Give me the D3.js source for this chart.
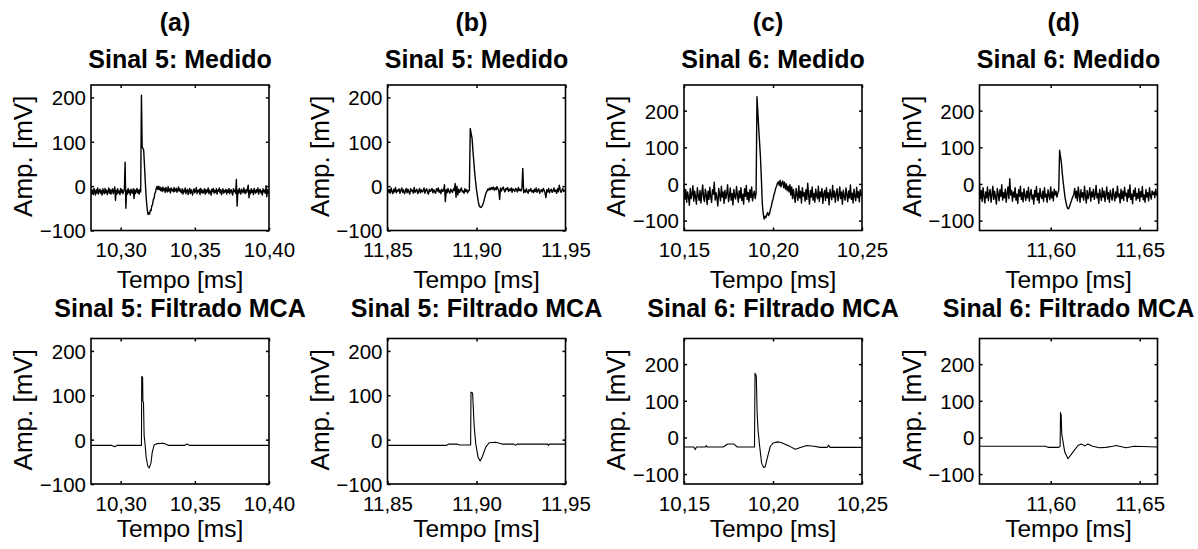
<!DOCTYPE html>
<html>
<head>
<meta charset="utf-8">
<script src="https://cdn.jsdelivr.net/npm/d3@7"></script>
<style>
  html, body { margin: 0; padding: 0; background: #fff; }
  svg { display: block; font-family: "Liberation Sans", Arial, Helvetica, sans-serif; }
</style>
</head>
<body>
<svg id="chart" width="1198" height="549"></svg>
<script>
// ---- Panel text ----
const panelLetters = ["(a)", "(b)", "(c)", "(d)"];
const measuredTitles = ["Sinal 5: Medido", "Sinal 5: Medido", "Sinal 6: Medido", "Sinal 6: Medido"];
const filteredTitles = ["Sinal 5: Filtrado MCA", "Sinal 5: Filtrado MCA", "Sinal 6: Filtrado MCA", "Sinal 6: Filtrado MCA"];
const xAxisLabel = "Tempo [ms]";
const yAxisLabel = "Amp. [mV]";

// ---- Axis ranges and ticks ----
const xDomains = [[10.28, 10.40], [11.85, 11.95], [10.15, 10.25], [11.56, 11.66]];
const xTickValues = [[10.30, 10.35, 10.40], [11.85, 11.90, 11.95], [10.15, 10.20, 10.25], [11.60, 11.65]];
const yDomains = [[-100, 228], [-100, 228], [-127, 270], [-127, 270]];
const yTickValues = [[-100, 0, 100, 200], [-100, 0, 100, 200], [-100, 0, 100, 200], [-100, 0, 100, 200]];

// ---- Measured signals: uniformly sampled, start time [ms] and step [ms] ----
const sampleStart = [10.28, 11.85, 10.15, 11.56];
const sampleStep = 0.0005;

const measured5a = [
  -6,-17,-9,-19,-5,-14,-20,-8,-15,-4,-18,-11,-7,-16,-10,-20,-6,-13,-17,-5,-15,-9,-19,-12,-4,-16,-8,-18,-11,-6,-17,-10,
  -2,-32,
  -9,-18,-6,-15,-11,-19,-5,-14,-8,-17,-12,-7,
  54,-50,
  -10,-18,-5,-15,-9,-20,-7,-13,-16,-6,
  -28,
  -8,-17,-11,-5,-15,-9,-18,-7,-13,
  205,88,85,82,50,16,-15,-38,-55,-64,
  -60,-63,-54,-55,-44,-42,-30,-28,-17,-13,
  -5,-1,-7,0,-8,-2,-10,
  -4,-12,-2,-10,-5,-14,-3,-9,-13,-1,-11,-6,-15,-4,-10,-7,-13,-3,-12,-8,-5,-14,-9,-2,-11,-6,-13,
  -15,-6,-18,-9,-13,-4,-17,-10,-7,-19,
  -12,-5,-16,-8,-14,-20,-9,-6,-15,-11,
  -3,-17,-10,-13,-7,-19,-5,-14,-9,-16,
  -12,-6,-18,-8,-15,-11,-4,-17,-9,-13,
  -20,-7,-12,-5,-16,-10,-14,-6,-18,-9,
  -11,-4,-15,-8,-19,-12,-6,-16,-10,-13,
  -7,-18,-9,-14,-5,-17,-11,-8,-15,-20,
  -6,-12,-9,-16,
  15,-45,
  -9,-16,-5,-13,-18,-7,-11,-15,-4,-12,-17,-8,-14,-6,
  2,-26,
  -10,-17,-6,-14,-9,-19,-5,-12,-16,-8,-13,-4,-18,-10,-7,-15,-11,-20,-6,-13,-9,-16,
  1,-24,
  -8,-15,-10
];

const measured5b = [
  -5,-14,-8,-16,-4,-12,-17,-7,-13,-3,
  -15,-9,-11,-6,-16,-10,-4,-14,-8,-17,
  -12,-5,-15,-7,-13,-18,-6,-11,-9,-16,
  -3,-14,-10,-7,-17,-12,-5,-15,-8,-13,
  -11,-4,-16,-9,-6,-14,-18,-7,-12,-10,
  -5,-15,-8,-13,-16,-6,-11,-4,-14,-9,
  -17,-7,-12,-10,
  3,-35,
  -8,-15,-5,-12,-16,-7,-11,-14,-6,-10,
  6,-25,0,-20,
  -7,-14,-9,-4,-13,-11,-16,-6,-12,-8,-15,-10,
  -10,130,118,108,80,55,30,10,-8,-22,
  -35,-44,-47,-48,-46,-42,-36,-28,-20,-14,
  -10,-6,-9,-4,-8,-3,
  -7,-2,-9,-4,-8,-1,-6,-10,
  -30,
  -4,-11,-6,-2,-9,-13,-5,-8,-3,-12,-7,-10,-4,-14,-6,-9,-12,-5,-8,-13,-3,-10,-7,-11,-6,
  40,-15,
  -9,-14,-6,-12,-16,-8,-11,-5,-13,-10,-15,-7,-12,-4,-14,-9,-6,-16,-11,-8,-13,-5,-10,-15,
  -26,
  -8,-13,-5,-15,-10,-7,-14,-11,-4,-12,-9,-16,-6,-13,2,-8,-14,-10,-5,-12,-9,-11
];

const measured6c = [
  -8,-42,-15,-50,-22,-35,-58,-12,-40,-28,
  -5,-47,-20,-36,-55,-10,-32,-45,-18,-52,
  -25,-3,-38,-48,-14,-30,-56,-20,-42,-9,
  -34,-50,-16,-28,5,-44,-24,-38,-60,-12,
  -30,-46,-6,-36,-22,-53,-17,-40,-27,-2,
  -48,-33,-11,-44,-26,-57,-15,-35,-41,-7,
  -30,-50,-19,-38,-10,-45,-28,-55,-13,-34,
  -4,-42,-23,-49,-16,-37,-8,-46,-29,-20,
  -40,-26,
  238,195,150,110,68,10,-55,-80,-96,-88,
  -92,-84,-78,-86,-82,-70,-62,-50,-42,-30,
  -22,-12,-6,2,6,-4,10,-8,3,8,
  -10,5,-14,0,-18,-6,-22,-2,
  -30,-8,-40,-15,-35,-50,-12,-28,-45,-5,
  -38,-20,-52,-10,-33,-24,-47,-16,-42,2,
  -30,-55,-18,-36,-8,-44,-26,-50,-14,-32,
  -40,-6,-48,-22,-35,-12,-53,-28,-18,-45,
  -10,-38,-24,-57,-15,-30,-43,-4,-36,-20,
  -50,-27,-13,-46,-32,-8,-40,-22,-55,-17,
  -34,-44,-11,-29,-48,-19,-38,-3,-42,-25,
  -52,-14,-33,-46,-9,-37,-21,-49,-16,-31,
  -26
];

const measured6d = [
  -4,-40,-18,-48,-10,-33,-52,-22,-38,-8,
  -45,-26,-15,-50,-30,-6,-42,-20,-36,-55,
  -12,-28,-46,-16,-34,-2,-44,-24,-38,-14,
  -50,-26,-8,-40,14,-30,-18,-47,-22,-36,
  -10,-44,-28,-53,-16,-34,-6,-42,-24,-49,
  -13,-32,-45,-20,-38,-9,-47,-27,-15,-41,
  -30,-55,-18,-35,-7,-44,-25,-52,-12,-33,
  -40,-20,-48,-10,-36,-28,-50,-16,-31,-43,
  -8,-38,-22,-46,-14,-30,-20,-36,-25,-18,
  92,75,58,30,6,-15,-35,-48,-60,-66,-68,-62,-55,-48,-40,-34,-28,
  -12,-38,-20,-46,-8,-30,-50,-16,-36,-24,
  -44,-6,-33,-52,-18,-40,-28,-10,-47,-22,
  -35,-14,-42,-30,-4,-38,-26,-53,-15,-32,
  -45,-11,-36,-20,-48,-28,-8,-41,-24,-50,
  -17,-34,-44,-12,-30,-46,-22,-38,-6,-35,
  -27,-52,-14,-40,-20,-45,-9,-32,-25,-48,
  -16,-37,-3,-42,-28,-54,-18,-33,-11,-44,
  -26,-39,-13,-47,-21,-35,-7,-43,-30,-50,
  -15,-36,-24,-46,-10,-32,-41,-19,-28,-22,
  -37,-14,-30,-24
];

// ---- Filtered (MCA) signals: [time ms, amplitude mV] ----
const filtered5a = [
  [10.28,-13],[10.294,-13],[10.2961,-16],[10.2975,-13],[10.3140,-13],[10.3142,143],[10.3148,140],
  [10.3150,86],[10.3154,84],[10.3158,10],[10.3164,-8],[10.3172,-40],[10.3183,-60],[10.3192,-64],
  [10.3204,-53],[10.3213,-28],[10.3226,-12],[10.3244,-9],[10.3290,-8],[10.3324,-13],[10.3430,-13],
  [10.3448,-10],[10.3465,-13],[10.40,-13]
];
const filtered5b = [
  [11.85,-13],[11.883,-13],[11.8845,-10],[11.889,-10],[11.8905,-12],[11.8967,-12],[11.8969,107],
  [11.8978,105],[11.8987,30],[11.8996,-10],[11.9009,-40],[11.9021,-48],[11.9033,-38],[11.9052,-17],
  [11.9071,-7],[11.9108,-6],[11.9144,-10],[11.9210,-10],[11.9219,-13],[11.9228,-10],[11.9400,-10],
  [11.9404,-13],[11.9410,-10],[11.95,-10]
];
const filtered6c = [
  [10.15,-26],[10.1555,-26],[10.1563,-33],[10.157,-26],[10.1620,-26],[10.1625,-22],[10.1630,-26],
  [10.1720,-26],[10.1745,-18],[10.1780,-18],[10.1800,-26],[10.1896,-26],[10.1899,175],[10.1906,168],
  [10.1911,66],[10.1916,20],[10.1925,-24],[10.1936,-70],[10.1947,-82],[10.1956,-80],[10.1966,-60],
  [10.1985,-24],[10.2002,-15],[10.2025,-12],[10.2045,-14],[10.2097,-25],[10.2125,-32],[10.2150,-28],
  [10.2190,-22],[10.2230,-24],[10.2266,-27],[10.2305,-27],[10.2312,-21],[10.2320,-27],[10.25,-27]
];
const filtered6d = [
  [11.56,-24],[11.597,-24],[11.5985,-27],[11.6045,-27],[11.6053,-25],[11.6055,68],[11.6059,60],
  [11.6062,10],[11.6079,-40],[11.6097,-58],[11.6125,-40],[11.6153,-22],[11.6172,-18],[11.6191,-23],
  [11.6209,-18],[11.6235,-24],[11.6274,-28],[11.6310,-27],[11.6349,-24],[11.6368,-22],[11.6423,-28],
  [11.6470,-24],[11.66,-26]
];

const measuredSeries = [measured5a, measured5b, measured6c, measured6d];
const filteredSeries = [filtered5a, filtered5b, filtered6c, filtered6d];

// ---- Layout ----
const colLeft = [91, 387.5, 684, 979.5];
const plotW = 178;
const rows = [
  { top: 85,    h: 145.5, titleY: 67.7,  letterY: 31,   tickY: 26.5, labelY: 57, lineW: 1.4 },
  { top: 338.5, h: 145.5, titleY: 316.7, letterY: null, tickY: 26.5, labelY: 53, lineW: 1.1 }
];

const locale = d3.formatLocale({ decimal: ",", thousands: ".", grouping: [3], currency: ["", ""] });
const fmtX = locale.format(".2f");
const fmtY = d3.format("d");

const svg = d3.select("#chart");

function drawPanel(col, rowIdx, data, title) {
  const row = rows[rowIdx];
  const left = colLeft[col], top = row.top, w = plotW, h = row.h;
  const g = svg.append("g").attr("transform", `translate(${left},${top})`);

  const x = d3.scaleLinear().domain(xDomains[col]).range([0, w]);
  const y = d3.scaleLinear().domain(yDomains[col]).range([h, 0]);

  const clipId = `clip-${col}-${rowIdx}`;
  g.append("clipPath").attr("id", clipId)
    .append("rect").attr("x", 0).attr("y", 0).attr("width", w).attr("height", h);

  // signal trace
  const line = d3.line().x(d => x(d[0])).y(d => y(d[1]));
  g.append("path")
    .datum(data)
    .attr("clip-path", `url(#${clipId})`)
    .attr("fill", "none")
    .attr("stroke", "#000")
    .attr("stroke-width", row.lineW)
    .attr("stroke-linejoin", "round")
    .attr("d", line);

  // axes with inward ticks on all four sides
  const tickLen = -3;
  const axB = g.append("g").attr("transform", `translate(0,${h})`)
    .call(d3.axisBottom(x).tickValues(xTickValues[col]).tickSize(tickLen).tickFormat(fmtX));
  const axT = g.append("g")
    .call(d3.axisTop(x).tickValues(xTickValues[col]).tickSize(tickLen).tickFormat(""));
  const axL = g.append("g")
    .call(d3.axisLeft(y).tickValues(yTickValues[col]).tickSize(tickLen).tickFormat(fmtY));
  const axR = g.append("g").attr("transform", `translate(${w},0)`)
    .call(d3.axisRight(y).tickValues(yTickValues[col]).tickSize(tickLen).tickFormat(""));

  [axB, axT, axL, axR].forEach(a => {
    a.select(".domain").remove();
    a.selectAll(".tick line").attr("stroke", "#000").attr("stroke-width", 1.5);
  });

  axB.selectAll(".tick text")
    .attr("y", row.tickY).attr("dy", null)
    .attr("font-size", 20.5).attr("fill", "#000")
    .attr("font-family", "Liberation Sans, Arial, sans-serif");
  axL.selectAll(".tick text")
    .attr("x", -5).attr("dy", "0.36em")
    .attr("font-size", 20.5).attr("fill", "#000")
    .attr("font-family", "Liberation Sans, Arial, sans-serif");

  // frame
  g.append("rect")
    .attr("x", 0).attr("y", 0).attr("width", w).attr("height", h)
    .attr("fill", "none").attr("stroke", "#000").attr("stroke-width", 1.6);

  // axis labels
  g.append("text")
    .attr("x", w / 2).attr("y", h + row.labelY)
    .attr("text-anchor", "middle").attr("font-size", 24.5).attr("fill", "#000")
    .text(xAxisLabel);
  g.append("text")
    .attr("transform", `translate(-59,${h / 2 - 1.5}) rotate(-90)`)
    .attr("text-anchor", "middle").attr("font-size", 26).attr("fill", "#000")
    .text(yAxisLabel);

  // titles
  g.append("text")
    .attr("x", w / 2).attr("y", row.titleY - top)
    .attr("text-anchor", "middle").attr("font-size", 25).attr("font-weight", "bold").attr("fill", "#000")
    .text(title);
  if (row.letterY !== null) {
    g.append("text")
      .attr("x", w / 2 - 5).attr("y", row.letterY - top)
      .attr("text-anchor", "middle").attr("font-size", 25).attr("font-weight", "bold").attr("fill", "#000")
      .text(panelLetters[col]);
  }
}

measuredSeries.forEach((vals, col) => {
  const pts = vals.map((v, i) => [sampleStart[col] + i * sampleStep, v]);
  drawPanel(col, 0, pts, measuredTitles[col]);
});
filteredSeries.forEach((pts, col) => {
  drawPanel(col, 1, pts, filteredTitles[col]);
});
</script>
</body>
</html>
